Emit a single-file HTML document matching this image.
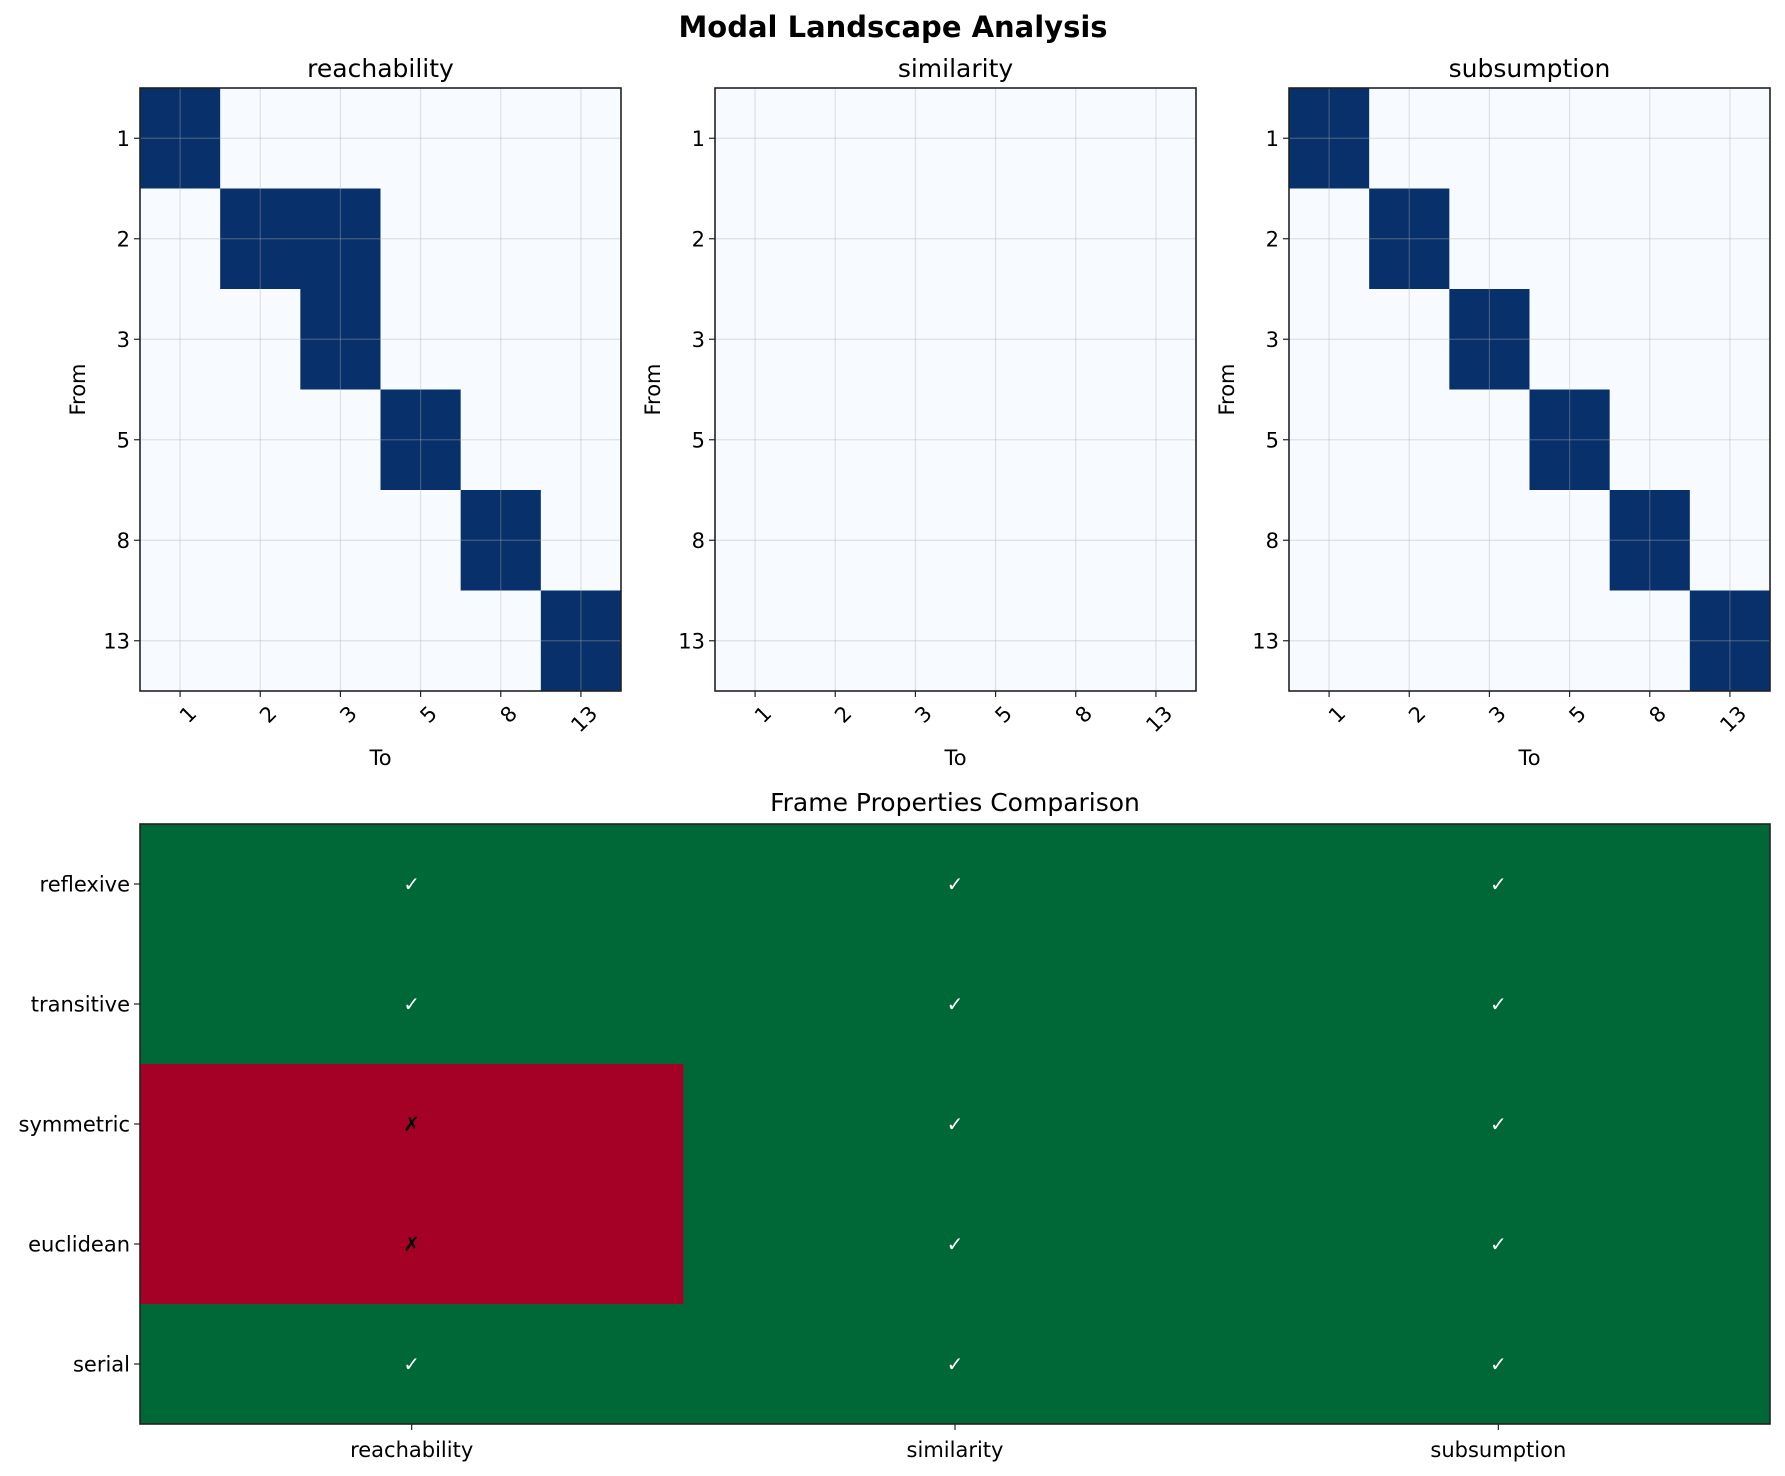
<!DOCTYPE html>
<html><head><meta charset="utf-8">
<style>
html,body{margin:0;padding:0;background:#fff;}
svg{display:block;font-family:"DejaVu Sans","Liberation Sans",sans-serif;}
</style></head>
<body>
<svg id="fig" width="1785" height="1476" viewBox="0 0 1785 1476" xmlns="http://www.w3.org/2000/svg">
<rect width="1785" height="1476" fill="#fff"/>
<text x="893" y="37" text-anchor="middle" font-size="29" font-weight="bold">Modal Landscape Analysis</text>
</svg>
<script>
const worlds = ["1","2","3","5","8","13"];
const relationNames = ["reachability","similarity","subsumption"];
const reachability = [
 [1,0,0,0,0,0],
 [0,1,1,0,0,0],
 [0,0,1,0,0,0],
 [0,0,0,1,0,0],
 [0,0,0,0,1,0],
 [0,0,0,0,0,1]];
const similarity = [
 [0,0,0,0,0,0],
 [0,0,0,0,0,0],
 [0,0,0,0,0,0],
 [0,0,0,0,0,0],
 [0,0,0,0,0,0],
 [0,0,0,0,0,0]];
const subsumption = [
 [1,0,0,0,0,0],
 [0,1,0,0,0,0],
 [0,0,1,0,0,0],
 [0,0,0,1,0,0],
 [0,0,0,0,1,0],
 [0,0,0,0,0,1]];
const properties = ["reflexive","transitive","symmetric","euclidean","serial"];
const propReachability = [1,1,0,0,1];
const propSimilarity = [1,1,1,1,1];
const propSubsumption = [1,1,1,1,1];

const NS="http://www.w3.org/2000/svg";
const svg=document.getElementById('fig');
function mk(tag,attrs,parent){const e=document.createElementNS(NS,tag);for(const k in attrs)e.setAttribute(k,attrs[k]);(parent||svg).appendChild(e);return e;}

const matrices=[reachability,similarity,subsumption];
const panelX=[140,715,1289];
const pw=481, py=88, ph=603;
matrices.forEach((M,p)=>{
  const g=mk('g',{});
  
  
  const x0=panelX[p];
  const n=worlds.length, cw=pw/n, ch=ph/n;
  const xs=i=>x0+i*cw, ys=j=>py+j*ch;
  for(let r=0;r<n;r++)for(let c=0;c<n;c++){
    const cell=mk('rect',{x:xs(c),y:ys(r),width:cw+0.5,height:ch+0.5,fill:M[r][c]?'#08306b':'#f7fbff'},g);
    
    
  }
  for(let i=0;i<n;i++){
    mk('line',{x1:xs(i+0.5),x2:xs(i+0.5),y1:py,y2:py+ph,stroke:'#b0b0b0','stroke-opacity':0.35,'stroke-width':1.2},g);
    mk('line',{x1:x0,x2:x0+pw,y1:ys(i+0.5),y2:ys(i+0.5),stroke:'#b0b0b0','stroke-opacity':0.35,'stroke-width':1.2},g);
    mk('line',{x1:xs(i+0.5),x2:xs(i+0.5),y1:py+ph,y2:py+ph+6,stroke:'#222','stroke-width':1.2},g);
    mk('line',{x1:x0,x2:x0-6,y1:ys(i+0.5),y2:ys(i+0.5),stroke:'#222','stroke-width':1.2},g);
    const yl=mk('text',{x:x0-10,y:ys(i+0.5)+7.5,'text-anchor':'end','font-size':21},g);
    yl.textContent=worlds[i];
    
    
    const tx=xs(i+0.5)+7, ty=py+ph+13;
    const xl=mk('text',{x:tx,y:ty,'text-anchor':'end','font-size':21,transform:`rotate(-45 ${tx} ${ty})`,'dominant-baseline':'hanging'},g);
    xl.textContent=worlds[i];
    
    
  }
  mk('rect',{x:x0,y:py,width:pw,height:ph,fill:'none',stroke:'#222','stroke-width':1.6},g);
  const t=mk('text',{x:x0+pw/2,y:77,'text-anchor':'middle','font-size':25},g);
  t.textContent=relationNames[p];
  
  
  const xa=mk('text',{x:x0+pw/2,y:765,'text-anchor':'middle','font-size':21},g);
  xa.textContent='To';
  
  
  const yax=x0-55, yay=py+ph/2;
  const ya=mk('text',{x:yax,y:yay,'text-anchor':'middle','font-size':21,transform:`rotate(-90 ${yax} ${yay})`},g);
  ya.textContent='From';
  
  
});

const props=[propReachability,propSimilarity,propSubsumption];
const bx=140, by=824, bw=1630, bh=600;
const bg=mk('g',{});


const cw=bw/relationNames.length, ch=bh/properties.length;
for(let r=0;r<properties.length;r++)for(let c=0;c<relationNames.length;c++){
  const v=props[c][r];
  const cell=mk('rect',{x:bx+c*cw,y:by+r*ch,width:cw+0.5,height:ch+0.5,fill:v?'#006837':'#a50026'},bg);
  
  
  const t=mk('text',{x:bx+(c+0.5)*cw,y:by+(r+0.5)*ch+7,'text-anchor':'middle','font-size':20,fill:v?'#fff':'#000'},bg);
  t.textContent=v?'✓':'✗';
  
  
}
for(let r=0;r<properties.length;r++){
  const y=by+(r+0.5)*ch;
  mk('line',{x1:bx,x2:bx-6,y1:y,y2:y,stroke:'#222','stroke-width':1.2},bg);
  const l=mk('text',{x:bx-10,y:y+7.5,'text-anchor':'end','font-size':21},bg);
  l.textContent=properties[r];
  
  
}
for(let c=0;c<relationNames.length;c++){
  const x=bx+(c+0.5)*cw;
  mk('line',{x1:x,x2:x,y1:by+bh,y2:by+bh+6,stroke:'#222','stroke-width':1.2},bg);
  const l=mk('text',{x:x,y:by+bh+33,'text-anchor':'middle','font-size':21},bg);
  l.textContent=relationNames[c];
  
  
}
mk('rect',{x:bx,y:by,width:bw,height:bh,fill:'none',stroke:'#222','stroke-width':1.6},bg);
const bt=mk('text',{x:bx+bw/2,y:811,'text-anchor':'middle','font-size':25},bg);
bt.textContent='Frame Properties Comparison';


</script>
</body></html>
